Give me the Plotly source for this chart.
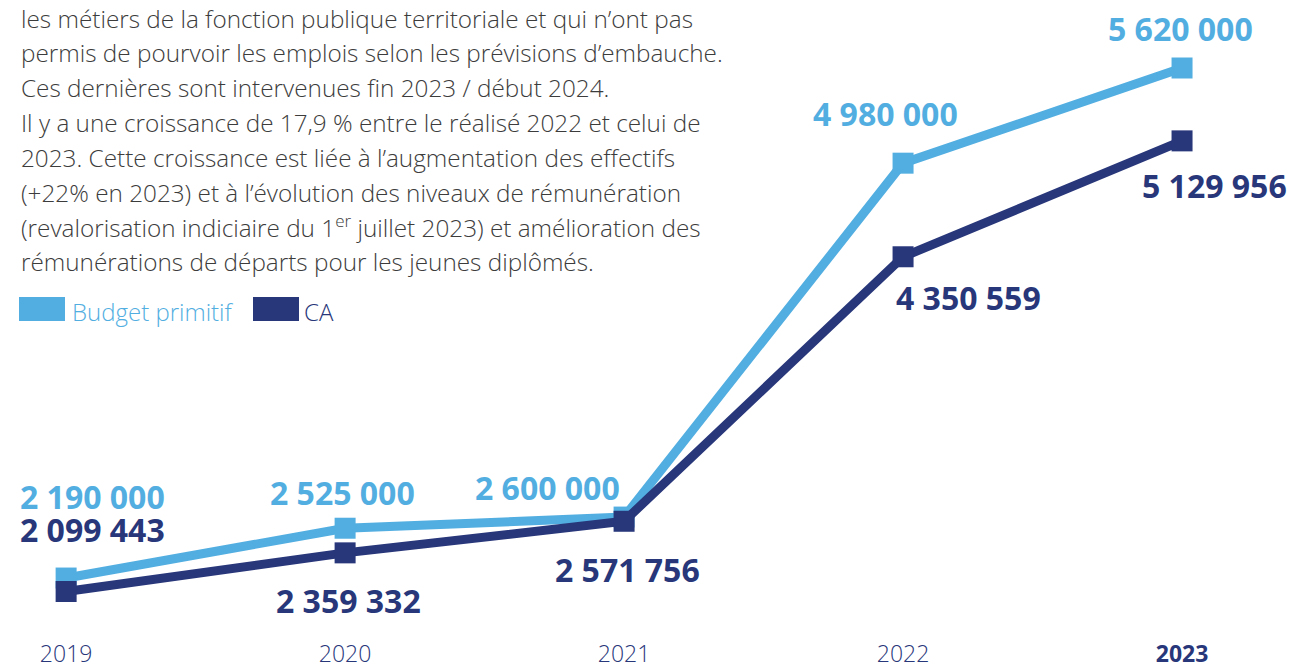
import plotly.graph_objects as go

years = [2019, 2020, 2021, 2022, 2023]
year_labels = ["2019", "2020", "2021", "2022", "<b>2023</b>"]
budget = [2190000, 2525000, 2600000, 4980000, 5620000]
ca = [2099443, 2359332, 2571756, 4350559, 5129956]
budget_labels = ["2 190 000", "2 525 000", "2 600 000", "4 980 000", "5 620 000"]
ca_labels = ["2 099 443", "2 359 332", "2 571 756", "4 350 559", "5 129 956"]

text_lines = [
    "les métiers de la fonction publique territoriale et qui n’ont pas",
    "permis de pourvoir les emplois selon les prévisions d’embauche.",
    "Ces dernières sont intervenues fin 2023 / début 2024.",
    "Il y a une croissance de 17,9 % entre le réalisé 2022 et celui de",
    "2023. Cette croissance est liée à l’augmentation des effectifs",
    "(+22% en 2023) et à l’évolution des niveaux de rémunération",
    "(revalorisation indiciaire du 1<sup>er</sup> juillet 2023) et amélioration des",
    "rémunérations de départs pour les jeunes diplômés.",
]

LIGHT = "#52AEE1"
NAVY = "#28367A"
TEXT = "#3c3c3c"
FONT = "Open Sans"

H = 622  # plot-area height
PX_PER_M = 148.7
Y_TOP = 6077300
fig = go.Figure()
fig.add_trace(go.Scatter(x=years, y=budget, mode="lines+markers", name="Budget primitif",
                         line=dict(color=LIGHT, width=9),
                         marker=dict(symbol="square", size=21, color=LIGHT)))
fig.add_trace(go.Scatter(x=years, y=ca, mode="lines+markers", name="CA",
                         line=dict(color=NAVY, width=9),
                         marker=dict(symbol="square", size=21, color=NAVY)))

# value labels (pixel offsets from each point)
b_off = [(26, 82), (-3, 36), (-77, 30), (-18, 50), (-2, 40)]
c_off = [(26, 62), (3, -48), (3, -48), (65, -41), (32, -45)]
for i in range(len(years)):
    fig.add_annotation(x=years[i], y=budget[i], text="<b>" + budget_labels[i] + "</b>",
                       showarrow=False, xshift=b_off[i][0], yshift=b_off[i][1],
                       font=dict(family=FONT, size=32, color=LIGHT))
    fig.add_annotation(x=years[i], y=ca[i], text="<b>" + ca_labels[i] + "</b>",
                       showarrow=False, xshift=c_off[i][0], yshift=c_off[i][1],
                       font=dict(family=FONT, size=32, color=NAVY))

# paragraph
for k, line in enumerate(text_lines):
    fig.add_annotation(xref="paper", yref="paper", x=19 / 1290, y=1 - (18 + 34.8 * k) / H,
                       xanchor="left", yanchor="middle", showarrow=False, text=line,
                       font=dict(family=FONT, size=24.3, color=TEXT, weight=300))

# legend
fig.add_shape(type="rect", xref="paper", yref="paper",
              x0=19 / 1290, x1=65 / 1290, y0=1 - 321 / H, y1=1 - 297 / H,
              fillcolor=LIGHT, line=dict(width=0))
fig.add_annotation(xref="paper", yref="paper", x=70 / 1290, y=1 - 311 / H,
                   xanchor="left", yanchor="middle", showarrow=False, text="Budget primitif",
                   font=dict(family=FONT, size=24, color=LIGHT, weight=300))
fig.add_shape(type="rect", xref="paper", yref="paper",
              x0=253 / 1290, x1=299 / 1290, y0=1 - 321 / H, y1=1 - 297 / H,
              fillcolor=NAVY, line=dict(width=0))
fig.add_annotation(xref="paper", yref="paper", x=302 / 1290, y=1 - 311 / H,
                   xanchor="left", yanchor="middle", showarrow=False, text="CA",
                   font=dict(family=FONT, size=24, color=NAVY, weight=300))

fig.update_layout(
    width=1290, height=662,
    margin=dict(l=0, r=0, t=0, b=662 - H, autoexpand=False),
    paper_bgcolor="white", plot_bgcolor="white",
    showlegend=False,
    xaxis=dict(range=[2018.763, 2023.387], tickvals=years, ticktext=year_labels,
               showgrid=False, zeroline=False, showline=False, ticks="", automargin=False,
               ticklabelstandoff=16,
               tickfont=dict(family=FONT, size=23, color=NAVY, weight=300)),
    yaxis=dict(range=[Y_TOP - H / PX_PER_M * 1e6, Y_TOP], visible=False, showgrid=False,
               zeroline=False, automargin=False),
)

fig.write_html("out.html", config={"displayModeBar": False},
               post_script="document.body.style.margin='0';")
